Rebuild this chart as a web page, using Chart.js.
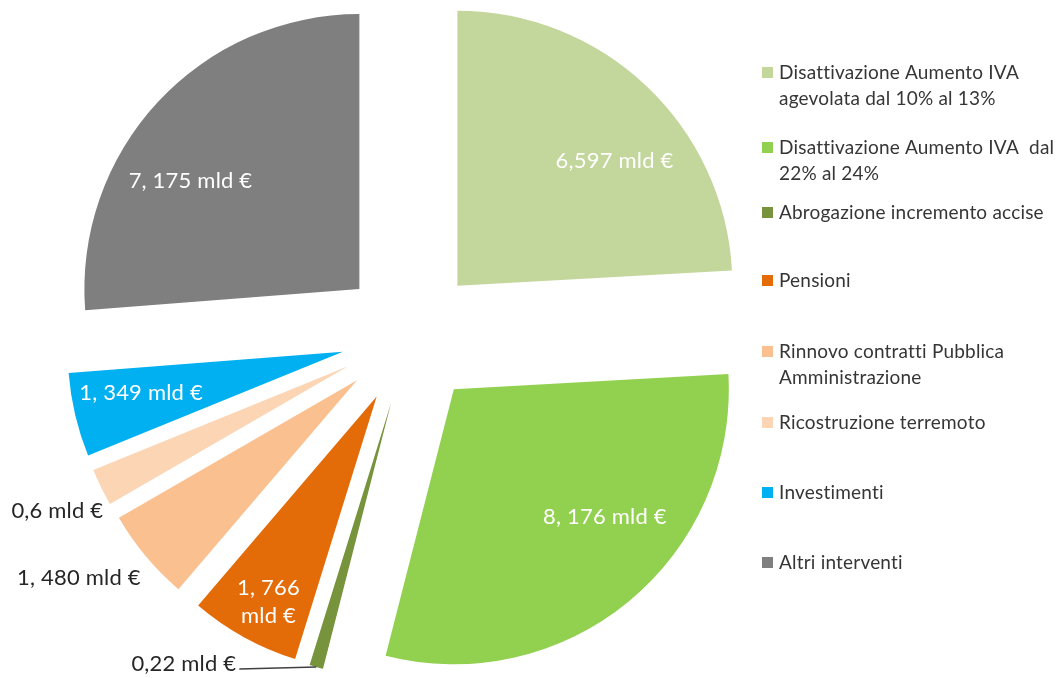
<!DOCTYPE html>
<html lang="it">
<head>
<meta charset="utf-8">
<title>Manovra - ripartizione interventi</title>
<script src="https://cdn.jsdelivr.net/npm/chart.js@4.4.1/dist/chart.umd.min.js"></script>
<style>
    html, body { margin: 0; padding: 0; background: #ffffff; }
    #wrap { width: 1057px; height: 678px; }
</style>
</head>
<body>
<div id="wrap"><canvas id="pieChart" width="1057" height="678"></canvas></div>
<script>
// categories (legend rows, one entry per line of text)
const categories = [
    ['Disattivazione Aumento IVA', 'agevolata dal 10% al 13%'],
    ['Disattivazione Aumento IVA  dal', '22% al 24%'],
    ['Abrogazione incremento accise'],
    ['Pensioni'],
    ['Rinnovo contratti Pubblica', 'Amministrazione'],
    ['Ricostruzione terremoto'],
    ['Investimenti'],
    ['Altri interventi']
];
// amounts in billions of euro
const amounts = [6.597, 8.176, 0.22, 1.766, 1.480, 0.6, 1.349, 7.175];
const valueLabels = [
    ['6,597 mld €'],
    ['8, 176 mld €'],
    ['0,22 mld €'],
    ['1, 766', 'mld €'],
    ['1, 480 mld €'],
    ['0,6 mld €'],
    ['1, 349 mld €'],
    ['7, 175 mld €']
];
const sliceColors = ['#C3D69B', '#92D050', '#77933C', '#E36C09', '#FAC090', '#FCD5B5', '#00B0F0', '#7F7F7F'];

const FONT = 'Lato, "Open Sans", sans-serif';
const EXPLODE = 69;     // px each slice is pulled out from the centre

// where each value label sits: fraction of radius, angle shift from the slice middle (deg)
const labelPlace = [
    { r: 0.73, da: 8.1, color: '#ffffff' },
    { r: 0.72, da: -10.3, color: '#ffffff' },
    { leader: true, color: '#262626' },
    { r: 0.844, da: -1.1, color: '#ffffff' },
    { r: 1.24, da: 4.4, color: '#262626' },
    { r: 1.18, da: -0.3, color: '#262626' },
    { r: 0.749, da: 1.7, color: '#ffffff' },
    { r: 0.729, da: -10.2, color: '#ffffff' }
];
// legend rows, y of the first text line
const legendY = [73, 148, 213, 281, 352, 423, 493, 563];

// move every arc out along its own bisector
const explodePlugin = {
    id: 'explode',
    beforeDatasetsDraw(chart) {
        const a = chart.chartArea;
        const cx = (a.left + a.right) / 2;
        const cy = (a.top + a.bottom) / 2;
        chart.getDatasetMeta(0).data.forEach(arc => {
            const mid = (arc.startAngle + arc.endAngle) / 2;
            arc.x = cx + Math.cos(mid) * EXPLODE;
            arc.y = cy + Math.sin(mid) * EXPLODE;
        });
    }
};

const valueLabelPlugin = {
    id: 'valueLabels',
    afterDatasetsDraw(chart) {
        const ctx = chart.ctx;
        ctx.save();
        ctx.font = '22px ' + FONT;
        ctx.letterSpacing = '0.2px';   // also keeps Lato from joining "tt"
        ctx.textBaseline = 'middle';
        chart.getDatasetMeta(0).data.forEach((arc, i) => {
            const p = labelPlace[i];
            const mid = (arc.startAngle + arc.endAngle) / 2;
            ctx.fillStyle = p.color;
            if (p.leader) {
                const tx = arc.x + Math.cos(mid) * arc.outerRadius;
                const ty = arc.y + Math.sin(mid) * arc.outerRadius;
                ctx.strokeStyle = '#404040';
                ctx.lineWidth = 1.5;
                ctx.beginPath();
                ctx.moveTo(tx, ty);
                ctx.lineTo(tx - 77, ty + 2);
                ctx.stroke();
                ctx.textAlign = 'right';
                ctx.fillText(valueLabels[i][0], tx - 80, ty - 3);
                return;
            }
            const ang = mid + p.da * Math.PI / 180;
            const x = arc.x + Math.cos(ang) * arc.outerRadius * p.r;
            const y = arc.y + Math.sin(ang) * arc.outerRadius * p.r;
            ctx.textAlign = 'center';
            const lines = valueLabels[i];
            const lh = 28;
            lines.forEach((t, k) => {
                ctx.fillText(t, x, y + (k - (lines.length - 1) / 2) * lh);
            });
        });
        ctx.restore();
    }
};

const legendPlugin = {
    id: 'sideLegend',
    afterDraw(chart) {
        const ctx = chart.ctx;
        ctx.save();
        ctx.font = '19px ' + FONT;
        ctx.letterSpacing = '0.2px';
        ctx.textBaseline = 'middle';
        ctx.textAlign = 'left';
        categories.forEach((lines, i) => {
            const y = legendY[i];
            ctx.fillStyle = sliceColors[i];
            ctx.fillRect(762, y - 6, 11, 11);
            ctx.fillStyle = '#363636';
            lines.forEach((t, k) => ctx.fillText(t, 779, y + k * 26));
        });
        ctx.restore();
    }
};

new Chart(document.getElementById('pieChart'), {
    type: 'pie',
    data: {
        labels: categories.map(c => c.join(' ')),
        datasets: [{
            data: amounts,
            backgroundColor: sliceColors,
            borderWidth: 0
        }]
    },
    options: {
        responsive: false,
        animation: false,
        events: [],
        radius: 275,
        layout: { padding: { left: 0, right: 237, top: 0, bottom: 6 } },
        plugins: {
            legend: { display: false },
            tooltip: { enabled: false }
        }
    },
    plugins: [explodePlugin, valueLabelPlugin, legendPlugin]
});
</script>
</body>
</html>
